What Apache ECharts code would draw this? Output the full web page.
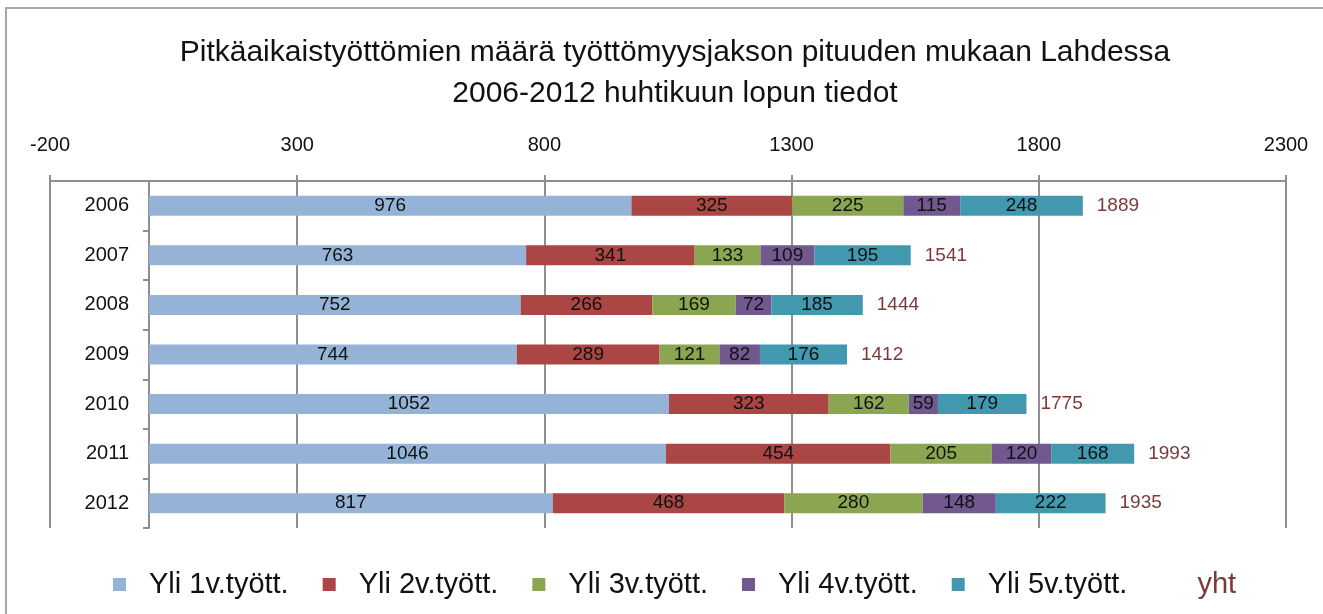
<!DOCTYPE html>
<html>
<head>
<meta charset="utf-8">
<title>Pitkäaikaistyöttömät Lahdessa</title>
<script src="https://cdn.jsdelivr.net/npm/echarts@6/dist/echarts.min.js"></script>
<style>
  html, body { margin: 0; padding: 0; background: #fff; }
  #chart { width: 1323px; height: 614px; }
</style>
</head>
<body>
<div id="chart"></div>
<script>
// vuodet (huhtikuun loppu)
const years = ['2006', '2007', '2008', '2009', '2010', '2011', '2012'];

// työttömyysjakson pituus
const yli1v = [976, 763, 752, 744, 1052, 1046, 817];
const yli2v = [325, 341, 266, 289, 323, 454, 468];
const yli3v = [225, 133, 169, 121, 162, 205, 280];
const yli4v = [115, 109, 72, 82, 59, 120, 148];
const yli5v = [248, 195, 185, 176, 179, 168, 222];
const yht = [1889, 1541, 1444, 1412, 1775, 1993, 1935];

const seriesNames = ['Yli 1v.tyött.', 'Yli 2v.tyött.', 'Yli 3v.tyött.', 'Yli 4v.tyött.', 'Yli 5v.tyött.'];
const seriesData = [yli1v, yli2v, yli3v, yli4v, yli5v];
const colors = ['#95b3d7', '#aa4644', '#8ba650', '#71588f', '#4198af'];
const yhtColor = '#7a3a3a';

const FONT = '"Liberation Sans", Arial, sans-serif';
const chart = echarts.init(document.getElementById('chart'));

const series = seriesData.map((d, i) => ({
    name: seriesNames[i],
    type: 'bar',
    stack: 'kaikki',
    barWidth: 20,
    data: d,
    itemStyle: { color: colors[i] },
    label: {
        show: true,
        position: 'inside',
        color: '#111',
        fontSize: 19,
        fontFamily: FONT
    }
}));

// yhteensä: läpinäkyvä palkki, jonka perään summa
series.push({
    name: 'yht',
    type: 'bar',
    barWidth: 20,
    barGap: '-100%',
    data: yht,
    itemStyle: { color: 'rgba(0,0,0,0)' },
    label: {
        show: true,
        position: 'right',
        distance: 14,
        color: yhtColor,
        fontSize: 19,
        fontFamily: FONT
    },
    z: 1
});

const option = {
    backgroundColor: '#fff',
    animation: false,
    title: {
        text: 'Pitkäaikaistyöttömien määrä työttömyysjakson pituuden mukaan Lahdessa\n2006-2012 huhtikuun lopun tiedot',
        left: 670,
        textAlign: 'center',
        top: 27,
        textStyle: {
            fontFamily: FONT,
            fontWeight: 'normal',
            fontSize: 30,
            lineHeight: 41,
            color: '#111'
        }
    },
    legend: {
        left: 108,
        top: 565,
        itemWidth: 13,
        itemHeight: 13,
        itemGap: 34,
        icon: 'rect',
        textStyle: {
            fontFamily: FONT,
            fontSize: 29,
            color: '#111',
            padding: [0, 0, 0, 18]
        },
        data: seriesNames.map(n => ({ name: n })).concat([
            { name: 'yht', icon: 'none', textStyle: { color: yhtColor } }
        ])
    },
    grid: {
        left: 50,
        right: 37,
        top: 181,
        bottom: 86,
        containLabel: false,
        outerBoundsMode: 'none'
    },
    xAxis: {
        type: 'value',
        position: 'top',
        min: -200,
        max: 2300,
        interval: 500,
        axisLine: { show: true, lineStyle: { color: '#8f8f8f', width: 2 } },
        axisTick: { show: true, length: 6, lineStyle: { color: '#8f8f8f', width: 2 } },
        axisLabel: {
            margin: 26,
            fontSize: 20,
            fontFamily: FONT,
            color: '#111',
            formatter: v => String(v)
        },
        splitLine: { show: true, lineStyle: { color: '#8f8f8f', width: 2 } }
    },
    yAxis: {
        type: 'category',
        data: years,
        inverse: true,
        // akseli kohtaan 0 (offset siirtää myös otsikot)
        offset: -99,
        axisLine: { show: true, onZero: false, lineStyle: { color: '#8f8f8f', width: 2 } },
        axisTick: { show: true, length: 6, lineStyle: { color: '#8f8f8f', width: 2 } },
        axisLabel: {
            margin: 20,
            fontSize: 20,
            fontFamily: FONT,
            color: '#111'
        }
    },
    graphic: [{
        type: 'rect',
        shape: { x: 6, y: 8, width: 1400, height: 700 },
        style: { fill: 'none', stroke: '#a6a6a6', lineWidth: 2 },
        silent: true
    }],
    series: series
};

chart.setOption(option);
window.addEventListener('resize', () => chart.resize());
</script>
</body>
</html>
